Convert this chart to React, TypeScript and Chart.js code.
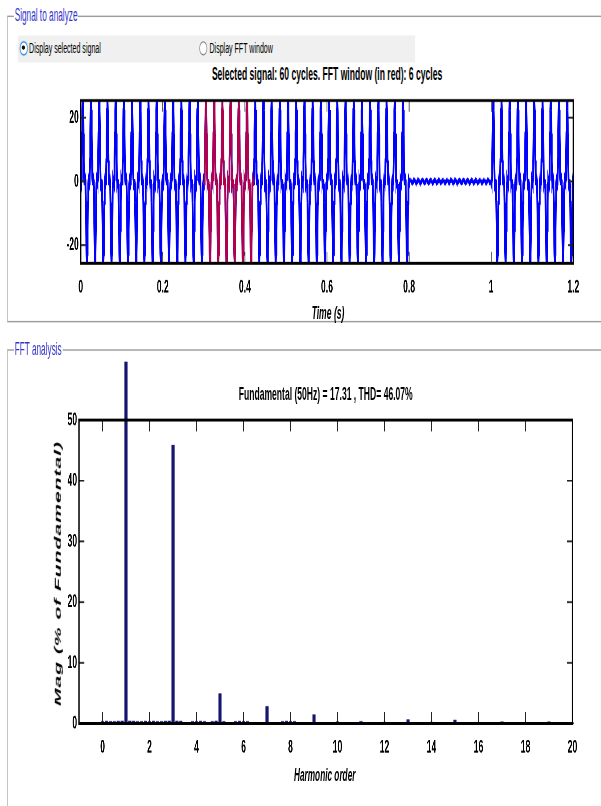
import React, { useEffect, useRef } from 'react';
import { Chart, registerables } from 'chart.js';

Chart.register(...registerables);

// ---------------- DATA ----------------
// One 50 Hz cycle of the analysed signal (24 samples per cycle)
const cycleShape = [0, -0.6, 0.8, 6.6, 15.0, 22.4, 25.4, 22.4, 15.0, 6.6, 0.8, -0.6, 0, 0.6, -0.8, -6.7, -15.2, -22.7, -25.7, -22.7, -15.2, -6.7, -0.8, 0.6];
// Small ripple seen while the signal is off (0.8 s – 1.0 s), one wiggle (12 samples)
const rippleShape = [0.1, 0.3, 0.45, 0.55, 0.5, 0.35, 0.1, -0.15, -0.3, -0.35, -0.25, -0.05];
const cycleSeconds = 0.02;
const cyclesBeforeGap = 40;
const gapWiggles = 20;
const cyclesAfterGap = 10;
const fftWindow = [0.3, 0.42];

const timeAxis = { min: 0, max: 1.2, step: 0.2 };
const signalAxis = { min: -25.7, max: 25.4, step: 20 };

// FFT magnitudes (% of fundamental), one bin every 1/6 harmonic (6-cycle window)
const binsPerHarmonic = 6;
const fftMagnitudes = [
  0.3, 0.35, 0.3, 0.3, 0.35, 0.4,      // 0
  100, 0.4, 0.35, 0.3, 0.3, 0.35,      // 1
  0.3, 0.35, 0.3, 0.3, 0.35, 0.4,      // 2
  45.8, 0.4, 0.35, 0.05, 0.05, 0.3,    // 3
  0.3, 0.35, 0.3, 0.05, 0.3, 0.4,      // 4
  4.9, 0.3, 0.05, 0.05, 0.3, 0.35,     // 5
  0.3, 0.3, 0.05, 0.05, 0.05, 0.05,    // 6
  2.8, 0.05, 0.05, 0.05, 0.3, 0.35,    // 7
  0.3, 0.3, 0.05, 0.05, 0.05, 0.05,    // 8
  1.4, 0.05, 0.05, 0.05, 0.05, 0.05,   // 9
  0.25, 0.05, 0.05, 0.05, 0.05, 0.05,  // 10
  0.3, 0.05, 0.05, 0.05, 0.05, 0.05,   // 11
  0.2, 0.05, 0.05, 0.05, 0.05, 0.05,   // 12
  0.6, 0.05, 0.05, 0.05, 0.05, 0.05,   // 13
  0.2, 0.05, 0.05, 0.05, 0.05, 0.05,   // 14
  0.55, 0.05, 0.05, 0.05, 0.05, 0.05,  // 15
  0.1, 0.05, 0.05, 0.05, 0.05, 0.05,   // 16
  0.25, 0.05, 0.05, 0.05, 0.05, 0.05,  // 17
  0.1, 0.05, 0.05, 0.05, 0.05, 0.05,   // 18
  0.25, 0.05, 0.05, 0.05, 0.05, 0.05,  // 19
  0.1,                                 // 20
];
const harmonicAxis = { min: -1, max: 20, step: 2 };
const magAxis = { min: 0, max: 50, step: 10 };

const panelTitle1 = 'Signal to analyze';
const panelTitle2 = 'FFT analysis';
const radioLabels = ['Display selected signal', 'Display FFT window'];
const signalTitle = 'Selected signal: 60 cycles. FFT window (in red): 6 cycles';
const fftTitle = 'Fundamental (50Hz) = 17.31 , THD= 46.07%';
const timeLabel = 'Time (s)';
const harmonicLabel = 'Harmonic order';
const magLabel = 'Mag (% of Fundamental)';

// ---------------- LAYOUT (logical units; whole view is stretched like the screenshot) ----------------
const SX = 0.66;
const SY = 1.42;
const W = 911;
const H = 568;
const FONT = "'Liberation Sans', Arial, Helvetica, sans-serif";

function buildSignal() {
  const pts: { x: number; y: number }[] = [];
  const dt = cycleSeconds / cycleShape.length;
  let i = 0;
  const push = (v: number) => {
    pts.push({ x: i * dt, y: v });
    i++;
  };
  for (let c = 0; c < cyclesBeforeGap; c++) cycleShape.forEach(push);
  for (let w = 0; w < gapWiggles; w++) rippleShape.forEach(push);
  for (let c = 0; c < cyclesAfterGap; c++) cycleShape.forEach(push);
  push(cycleShape[0]);
  return pts;
}

const frameTicksPlugin = {
  id: 'frameTicks',
  afterDatasetsDraw(chart: any, _args: any, opts: any) {
    const { ctx, chartArea: a } = chart;
    const xs = chart.scales.x;
    const ys = chart.scales.y;
    const len = opts.tickLength ?? 8;
    ctx.save();
    ctx.strokeStyle = opts.tickColor ?? '#222';
    ctx.lineWidth = opts.tickWidth ?? 1.2;
    ctx.beginPath();
    for (const t of xs.ticks) {
      const px = xs.getPixelForValue(t.value);
      ctx.moveTo(px, a.bottom);
      ctx.lineTo(px, a.bottom - len);
      ctx.moveTo(px, a.top);
      ctx.lineTo(px, a.top + len);
    }
    for (const t of ys.ticks) {
      const py = ys.getPixelForValue(t.value);
      ctx.moveTo(a.left, py);
      ctx.lineTo(a.left + len, py);
      ctx.moveTo(a.right, py);
      ctx.lineTo(a.right - len, py);
    }
    ctx.stroke();
    ctx.strokeStyle = '#000';
    ctx.lineWidth = opts.frameWidth ?? 2;
    ctx.strokeRect(a.left, a.top, a.right - a.left, a.bottom - a.top);
    ctx.restore();
  },
};

const tickFont = { family: FONT, size: 13, weight: 'bold' as const };
const plainNumber = (v: number | string) => String(Number(Number(v).toFixed(3)));

function Txt(props: { x: number; y: number; style?: React.CSSProperties; children: React.ReactNode; left?: boolean }) {
  return (
    <div
      style={{
        position: 'absolute',
        left: props.x,
        top: props.y,
        transform: props.left ? 'translate(0,-50%)' : 'translate(-50%,-50%)',
        whiteSpace: 'nowrap',
        lineHeight: 1,
        ...props.style,
      }}
    >
      {props.children}
    </div>
  );
}

export default function App() {
  const topRef = useRef<HTMLCanvasElement | null>(null);
  const fftRef = useRef<HTMLCanvasElement | null>(null);

  useEffect(() => {
    document.documentElement.style.overflow = 'hidden';
    const signal = buildSignal();
    const windowPts = signal.filter((p) => p.x >= fftWindow[0] - 1e-9 && p.x <= fftWindow[1] + 1e-9);

    const top = new Chart(topRef.current!, {
      type: 'line',
      data: {
        datasets: [
          { data: windowPts, borderColor: 'rgba(255,0,0,0.7)', borderWidth: 2.6, pointRadius: 0 },
          { data: signal, borderColor: '#0000ff', borderWidth: 2.8, pointRadius: 0 },
        ],
      },
      options: {
        animation: false,
        responsive: false,
        devicePixelRatio: 2,
        parsing: false,
        events: [],
        layout: { padding: { left: 0, right: 42.4, top: 10.4, bottom: 0 } },
        plugins: {
          legend: { display: false },
          tooltip: { enabled: false },
          frameTicks: { tickLength: 8 },
        } as any,
        scales: {
          x: {
            type: 'linear',
            min: timeAxis.min,
            max: timeAxis.max,
            ticks: { stepSize: timeAxis.step, includeBounds: false, padding: 9, font: tickFont, color: '#000', maxRotation: 0, autoSkip: false, callback: plainNumber },
            grid: { display: false, drawTicks: false },
            border: { display: false },
            afterFit: (s: any) => { s.height = 49.6; },
          },
          y: {
            type: 'linear',
            min: signalAxis.min,
            max: signalAxis.max,
            ticks: { stepSize: signalAxis.step, includeBounds: false, padding: 3, font: tickFont, color: '#000', callback: plainNumber },
            grid: { display: false, drawTicks: false },
            border: { display: false },
            afterFit: (s: any) => { s.width = 122.3; },
          },
        },
      },
      plugins: [frameTicksPlugin],
    });

    const fftPts = fftMagnitudes.map((v, k) => ({ x: k / binsPerHarmonic, y: v }));
    const fft = new Chart(fftRef.current!, {
      type: 'bar',
      data: {
        datasets: [
          {
            data: fftPts,
            backgroundColor: '#15156e',
            borderWidth: 0,
            barThickness: 4,
            grouped: false,
            clip: { left: 10, top: 41, right: 10, bottom: 5 },
          } as any,
        ],
      },
      options: {
        animation: false,
        responsive: false,
        devicePixelRatio: 2,
        events: [],
        layout: { padding: { left: 0, right: 43.6, top: 55.8, bottom: 0 } },
        plugins: {
          legend: { display: false },
          tooltip: { enabled: false },
          frameTicks: { tickLength: 8 },
        } as any,
        scales: {
          x: {
            type: 'linear',
            min: harmonicAxis.min,
            max: harmonicAxis.max,
            offset: false,
            ticks: { stepSize: harmonicAxis.step, includeBounds: false, padding: 9, font: tickFont, color: '#000', maxRotation: 0, autoSkip: false, callback: plainNumber },
            grid: { display: false, drawTicks: false },
            border: { display: false },
            afterFit: (s: any) => { s.height = 58.5; },
          },
          y: {
            type: 'linear',
            min: magAxis.min,
            max: magAxis.max,
            ticks: { stepSize: magAxis.step, includeBounds: false, padding: 3, font: tickFont, color: '#000', callback: plainNumber },
            grid: { display: false, drawTicks: false },
            border: { display: false },
            afterFit: (s: any) => { s.width = 119.7; },
          },
        },
      },
      plugins: [frameTicksPlugin],
    });

    return () => {
      top.destroy();
      fft.destroy();
    };
  }, []);

  const panelLabelStyle: React.CSSProperties = {
    fontFamily: FONT,
    fontSize: 12.5,
    color: '#3434cc',
    background: '#fff',
    padding: '0 1px',
  };
  const radioText: React.CSSProperties = { fontFamily: FONT, fontSize: 10.7, color: '#000' };

  return (
    <div
      style={{
        position: 'absolute',
        left: 0,
        top: 0,
        width: W,
        height: H,
        transform: `scale(${SX}, ${SY})`,
        transformOrigin: '0 0',
        overflow: 'hidden',
        background: '#fff',
        fontFamily: FONT,
      }}
    >
      {/* Panel 1 frame */}
      <div
        style={{
          position: 'absolute',
          left: 10.6,
          top: 11.3,
          width: 1000,
          height: 215.8,
          borderTop: '1px solid #9c9c9c',
          borderBottom: '1px solid #9c9c9c',
          borderLeft: '1.5px solid #a8a8a8',
          boxSizing: 'border-box',
        }}
      />
      {/* Panel 2 frame */}
      <div
        style={{
          position: 'absolute',
          left: 10.6,
          top: 245.8,
          width: 1000,
          height: 400,
          borderTop: '1px solid #9c9c9c',
          borderLeft: '1.5px solid #a8a8a8',
          boxSizing: 'border-box',
        }}
      />
      {/* radio row */}
      <div style={{ position: 'absolute', left: 27.3, top: 25.4, width: 601.5, height: 19, background: '#f0f0f0' }} />
      <div
        style={{
          position: 'absolute',
          left: 30.4,
          top: 29.4,
          width: 12,
          height: 9.6,
          boxSizing: 'border-box',
          borderRadius: '50%',
          border: '1.5px solid #3d8fe0',
          background: '#fff',
          boxShadow: '0 0 1.5px #6ab0f0',
        }}
      >
        <div style={{ position: 'absolute', left: 2, top: 1.6, width: 5, height: 3.4, borderRadius: '50%', background: '#111' }} />
      </div>
      <div
        style={{
          position: 'absolute',
          left: 302.3,
          top: 29.4,
          width: 12,
          height: 9.6,
          boxSizing: 'border-box',
          borderRadius: '50%',
          border: '1px solid #8a8a8a',
          background: '#fff',
        }}
      />

      <canvas ref={topRef} width={911} height={175} style={{ position: 'absolute', left: 0, top: 60, width: 911, height: 175 }} />
      <canvas ref={fftRef} width={911} height={328} style={{ position: 'absolute', left: 0, top: 240, width: 911, height: 328 }} />

      <Txt x={21.2} y={11.3} left style={panelLabelStyle}>{panelTitle1}</Txt>
      <Txt x={21.2} y={245.8} left style={panelLabelStyle}>{panelTitle2}</Txt>
      <Txt x={44} y={34.2} left style={radioText}>{radioLabels[0]}</Txt>
      <Txt x={317.4} y={34.2} left style={radioText}>{radioLabels[1]}</Txt>

      <Txt x={495.5} y={52.1} style={{ fontSize: 13, fontWeight: 'bold', color: '#000' }}>{signalTitle}</Txt>
      <Txt x={497} y={219.7} style={{ fontSize: 13, fontWeight: 'bold', fontStyle: 'italic', color: '#000' }}>{timeLabel}</Txt>
      <Txt x={493.5} y={276.8} style={{ fontSize: 13, fontWeight: 'bold', color: '#000' }}>{fftTitle}</Txt>
      <Txt x={492} y={545.8} style={{ fontSize: 12.5, fontWeight: 'bold', fontStyle: 'italic', color: '#000' }}>{harmonicLabel}</Txt>
      <div
        style={{
          position: 'absolute',
          left: 87,
          top: 403.5,
          transform: 'translate(-50%,-50%) rotate(-90deg)',
          whiteSpace: 'nowrap',
          lineHeight: 1,
          fontSize: 15,
          fontWeight: 'bold',
          fontStyle: 'italic',
          letterSpacing: 0.6,
          color: '#000',
        }}
      >
        {magLabel}
      </div>
    </div>
  );
}
